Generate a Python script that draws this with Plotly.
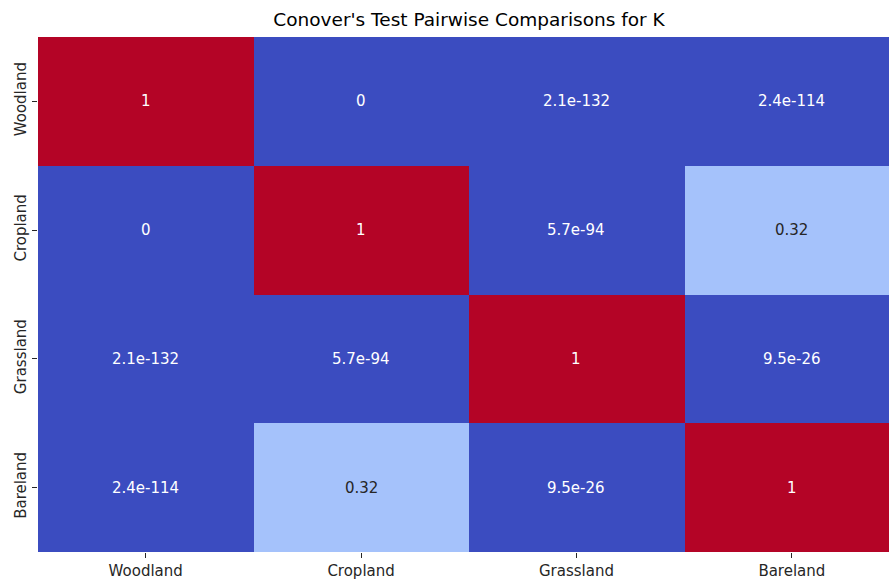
import plotly.graph_objects as go

categories = ["Woodland", "Cropland", "Grassland", "Bareland"]
p_values = [
    [1.0, 0.0, 2.1e-132, 2.4e-114],
    [0.0, 1.0, 5.7e-94, 0.32],
    [2.1e-132, 5.7e-94, 1.0, 9.5e-26],
    [2.4e-114, 0.32, 9.5e-26, 1.0],
]
labels = [
    ["1", "0", "2.1e-132", "2.4e-114"],
    ["0", "1", "5.7e-94", "0.32"],
    ["2.1e-132", "5.7e-94", "1", "9.5e-26"],
    ["2.4e-114", "0.32", "9.5e-26", "1"],
]

coolwarm = [
    [0.0, "rgb(59,76,192)"],
    [0.125, "rgb(98,130,234)"],
    [0.25, "rgb(141,176,254)"],
    [0.375, "rgb(184,208,249)"],
    [0.5, "rgb(221,221,221)"],
    [0.625, "rgb(245,196,173)"],
    [0.75, "rgb(244,154,123)"],
    [0.875, "rgb(222,96,77)"],
    [1.0, "rgb(180,4,38)"],
]

fig = go.Figure(go.Heatmap(
    z=p_values, x=categories, y=categories,
    colorscale=coolwarm, zmin=0, zmax=1, showscale=False,
    xgap=0, ygap=0, hoverinfo="skip",
))

annotations = []
for i, row in enumerate(categories):
    for j, col in enumerate(categories):
        v = p_values[i][j]
        color = "#262626" if 0.15 < v < 0.75 else "white"
        annotations.append(dict(
            x=col, y=row, xref="x", yref="y", text=labels[i][j],
            showarrow=False, font=dict(size=15, color=color,
                                       family="DejaVu Sans"),
        ))

fig.update_layout(
    width=889, height=581,
    margin=dict(l=38, r=0, t=37, b=29),
    paper_bgcolor="white", plot_bgcolor="white",
    font=dict(family="DejaVu Sans", size=15, color="#262626"),
    title=dict(text="Conover's Test Pairwise Comparisons for K",
               x=0.5065, xanchor="center", y=1 - 20 / 581, yanchor="middle",
               xref="paper",
               font=dict(size=18.5, color="#000000", family="DejaVu Sans")),
    annotations=annotations,
    xaxis=dict(range=[-0.5, 3.451], showgrid=False, zeroline=False,
               automargin=False,
               ticks="outside", ticklen=5, tickcolor="#262626",
               tickfont=dict(size=15, color="#262626")),
    yaxis=dict(autorange="reversed", showgrid=False, zeroline=False,
               automargin=False,
               ticks="outside", ticklen=5, tickcolor="#262626",
               tickangle=-90,
               tickfont=dict(size=15, color="#262626")),
)

fig.write_html(
    "out.html",
    config={"displayModeBar": False},
    post_script="document.body.style.margin='0';document.body.style.overflow='hidden';",
)
